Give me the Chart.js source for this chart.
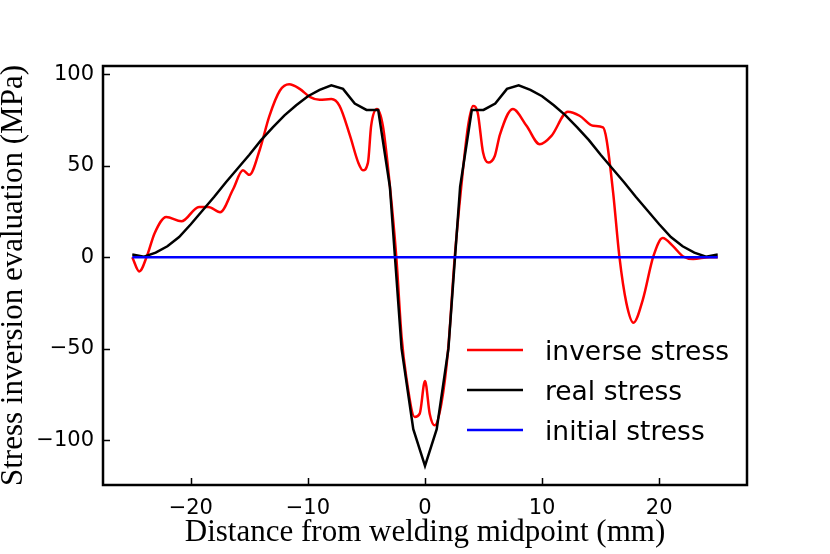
<!DOCTYPE html>
<html>
<head>
<meta charset="utf-8">
<script src="https://cdn.jsdelivr.net/npm/chart.js@4.4.1/dist/chart.umd.min.js"></script>
<style>
  body { margin: 0; background: #fff; }
  #wrap { width: 830px; height: 554px; }
</style>
</head>
<body>
<div id="wrap"><canvas id="myChart" width="830" height="554"></canvas></div>
<script>
// inverse stress (red)
const invX = [-25, -24.4, -23.7, -23.1, -22.1, -20.8, -19.3, -18.5, -17.5, -16.4, -15.55, -15.0,
  -14.1, -13.3, -12.4, -11.6, -10.7, -9.8, -9.0, -8.0, -7.3, -6.4, -5.7, -5.3, -4.87, -4.6, -4.1,
  -3.6, -3.0, -2.45, -2.0, -1.6, -0.88, -0.45, 0, 0.4, 0.83, 1.4, 1.97, 2.54, 3.1, 3.68, 4.1, 4.5,
  4.96, 5.4, 5.96, 6.4, 7.5, 8.67, 9.8, 10.8, 12.2, 13.2, 14.36, 15.2, 15.5, 16.07, 16.6, 17.2,
  17.8, 18.6, 19.5, 20.3, 21.2, 22.05, 22.9, 24.3, 25];
const invY = [0, -7.8, 1.5, 13, 22, 19.6, 27.5, 27.5, 24.6, 37, 47.5, 45,
  59, 77, 91, 94.5, 92, 87.5, 86, 86.4, 82.7, 66.3, 51.7, 47.5, 51.7, 71.8, 81,
  71.8, 39, 0, -43.5, -65.4, -87.3, -85.5, -67.6, -85.5, -91.9, -80, -50.8, 0, 38.8, 71.8, 82.7, 79,
  57.2, 51.7, 55.3, 67, 81, 71.8, 61.7, 66.3, 79.5, 77.3, 71.8, 70.9, 64.5, 35.2, 0.4, -25.1,
  -35.8, -23.3, 0.4, 10.5, 5.9, 0.4, -1, 0, 0];

// real stress (black), 1 mm spacing
const realX = [];
for (let i = -25; i <= 25; i++) realX.push(i);
const realY = [1.5, 0.3, 2.5, 6, 11, 18, 25.5, 33, 41, 48.5, 56, 64, 71, 77.5, 83, 88, 91.5,
  94, 92, 84, 80.5, 80.5, 38.5, -50, -94, -114, -94, -50, 38.5, 80.5, 80.5, 84, 92, 94,
  91.5, 88, 83, 77.5, 71, 64, 56, 48.5, 41, 33, 25.5, 18, 11, 6, 2.5, 0.3, 1.5];

// initial stress (blue)
const initX = [-25, 25];
const initY = [0, 0];

const xTicks = [-20, -10, 0, 10, 20];
const yTicks = [-100, -50, 0, 50, 100];

function toPoints(xs, ys) {
  return xs.map((x, i) => ({ x: x, y: ys[i] }));
}

// frame, inward ticks and legend inside the plot
const framePlugin = {
  id: "frame",
  afterDraw(chart) {
    const ctx = chart.ctx;
    const a = chart.chartArea;
    const xs = chart.scales.x;
    const ys = chart.scales.y;
    ctx.save();
    ctx.strokeStyle = "#000";
    ctx.lineWidth = 2.5;
    ctx.strokeRect(a.left, a.top, a.right - a.left, a.bottom - a.top);
    ctx.lineWidth = 1.5;
    ctx.beginPath();
    xTicks.forEach((v) => {
      const px = Math.round(xs.getPixelForValue(v)) + 0.5;
      ctx.moveTo(px, a.bottom);
      ctx.lineTo(px, a.bottom - 7);
    });
    yTicks.forEach((v) => {
      const py = Math.round(ys.getPixelForValue(v)) + 0.5;
      ctx.moveTo(a.left, py);
      ctx.lineTo(a.left + 7, py);
    });
    ctx.stroke();

    // legend
    ctx.font = "26.5px 'DejaVu Sans'";
    ctx.textBaseline = "alphabetic";
    ctx.fillStyle = "#000";
    chart.data.datasets.forEach((ds, i) => {
      const y = 350 + i * 40;
      ctx.strokeStyle = ds.borderColor;
      ctx.lineWidth = 2.5;
      ctx.beginPath();
      ctx.moveTo(467, y);
      ctx.lineTo(523, y);
      ctx.stroke();
      ctx.fillText(ds.label, 545, y + 9.5);
    });
    ctx.restore();
  },
};

const ctx = document.getElementById("myChart").getContext("2d");
const myChart = new Chart(ctx, {
  type: "line",
  data: {
    datasets: [
      {
        label: "inverse stress",
        data: toPoints(invX, invY),
        borderColor: "#ff0000",
        borderWidth: 2.5,
        pointRadius: 0,
        cubicInterpolationMode: "monotone",
        order: 2,
      },
      {
        label: "real stress",
        data: toPoints(realX, realY),
        borderColor: "#000000",
        borderWidth: 2.5,
        pointRadius: 0,
        tension: 0,
        order: 1,
      },
      {
        label: "initial stress",
        data: toPoints(initX, initY),
        borderColor: "#0000ff",
        borderWidth: 2.5,
        pointRadius: 0,
        tension: 0,
        order: 0,
      },
    ],
  },
  options: {
    responsive: false,
    animation: false,
    layout: { padding: { top: 66, right: 83, bottom: 0, left: 0 } },
    scales: {
      x: {
        type: "linear",
        min: -27.5,
        max: 27.5,
        grid: { display: false },
        border: { display: false },
        afterFit: (scale) => { scale.height = 69; },
        afterBuildTicks: (scale) => { scale.ticks = xTicks.map((v) => ({ value: v })); },
        ticks: {
          padding: 3,
          color: "#000",
          font: { family: "DejaVu Sans", size: 21 },
          callback: (v) => (v < 0 ? "\u2212" + Math.abs(v) : v),
          maxRotation: 0,
        },
        title: {
          display: true,
          text: "Distance from welding midpoint (mm)",
          color: "#000",
          font: { family: "Liberation Serif", size: 31 },
          padding: { top: 0, bottom: 3 },
        },
      },
      y: {
        type: "linear",
        min: -124.5,
        max: 104.5,
        grid: { display: false },
        border: { display: false },
        afterFit: (scale) => { scale.width = 103; },
        afterBuildTicks: (scale) => { scale.ticks = yTicks.map((v) => ({ value: v })); },
        ticks: {
          padding: 1,
          color: "#000",
          font: { family: "DejaVu Sans", size: 21 },
          callback: (v) => (v < 0 ? "\u2212" + Math.abs(v) : v),
        },
        title: {
          display: true,
          text: "Stress inversion evaluation (MPa)",
          color: "#000",
          font: { family: "Liberation Serif", size: 31 },
          padding: { top: -5, bottom: 0 },
        },
      },
    },
    plugins: {
      legend: { display: false },
      tooltip: { enabled: false },
    },
  },
  plugins: [framePlugin],
});
</script>
</body>
</html>
